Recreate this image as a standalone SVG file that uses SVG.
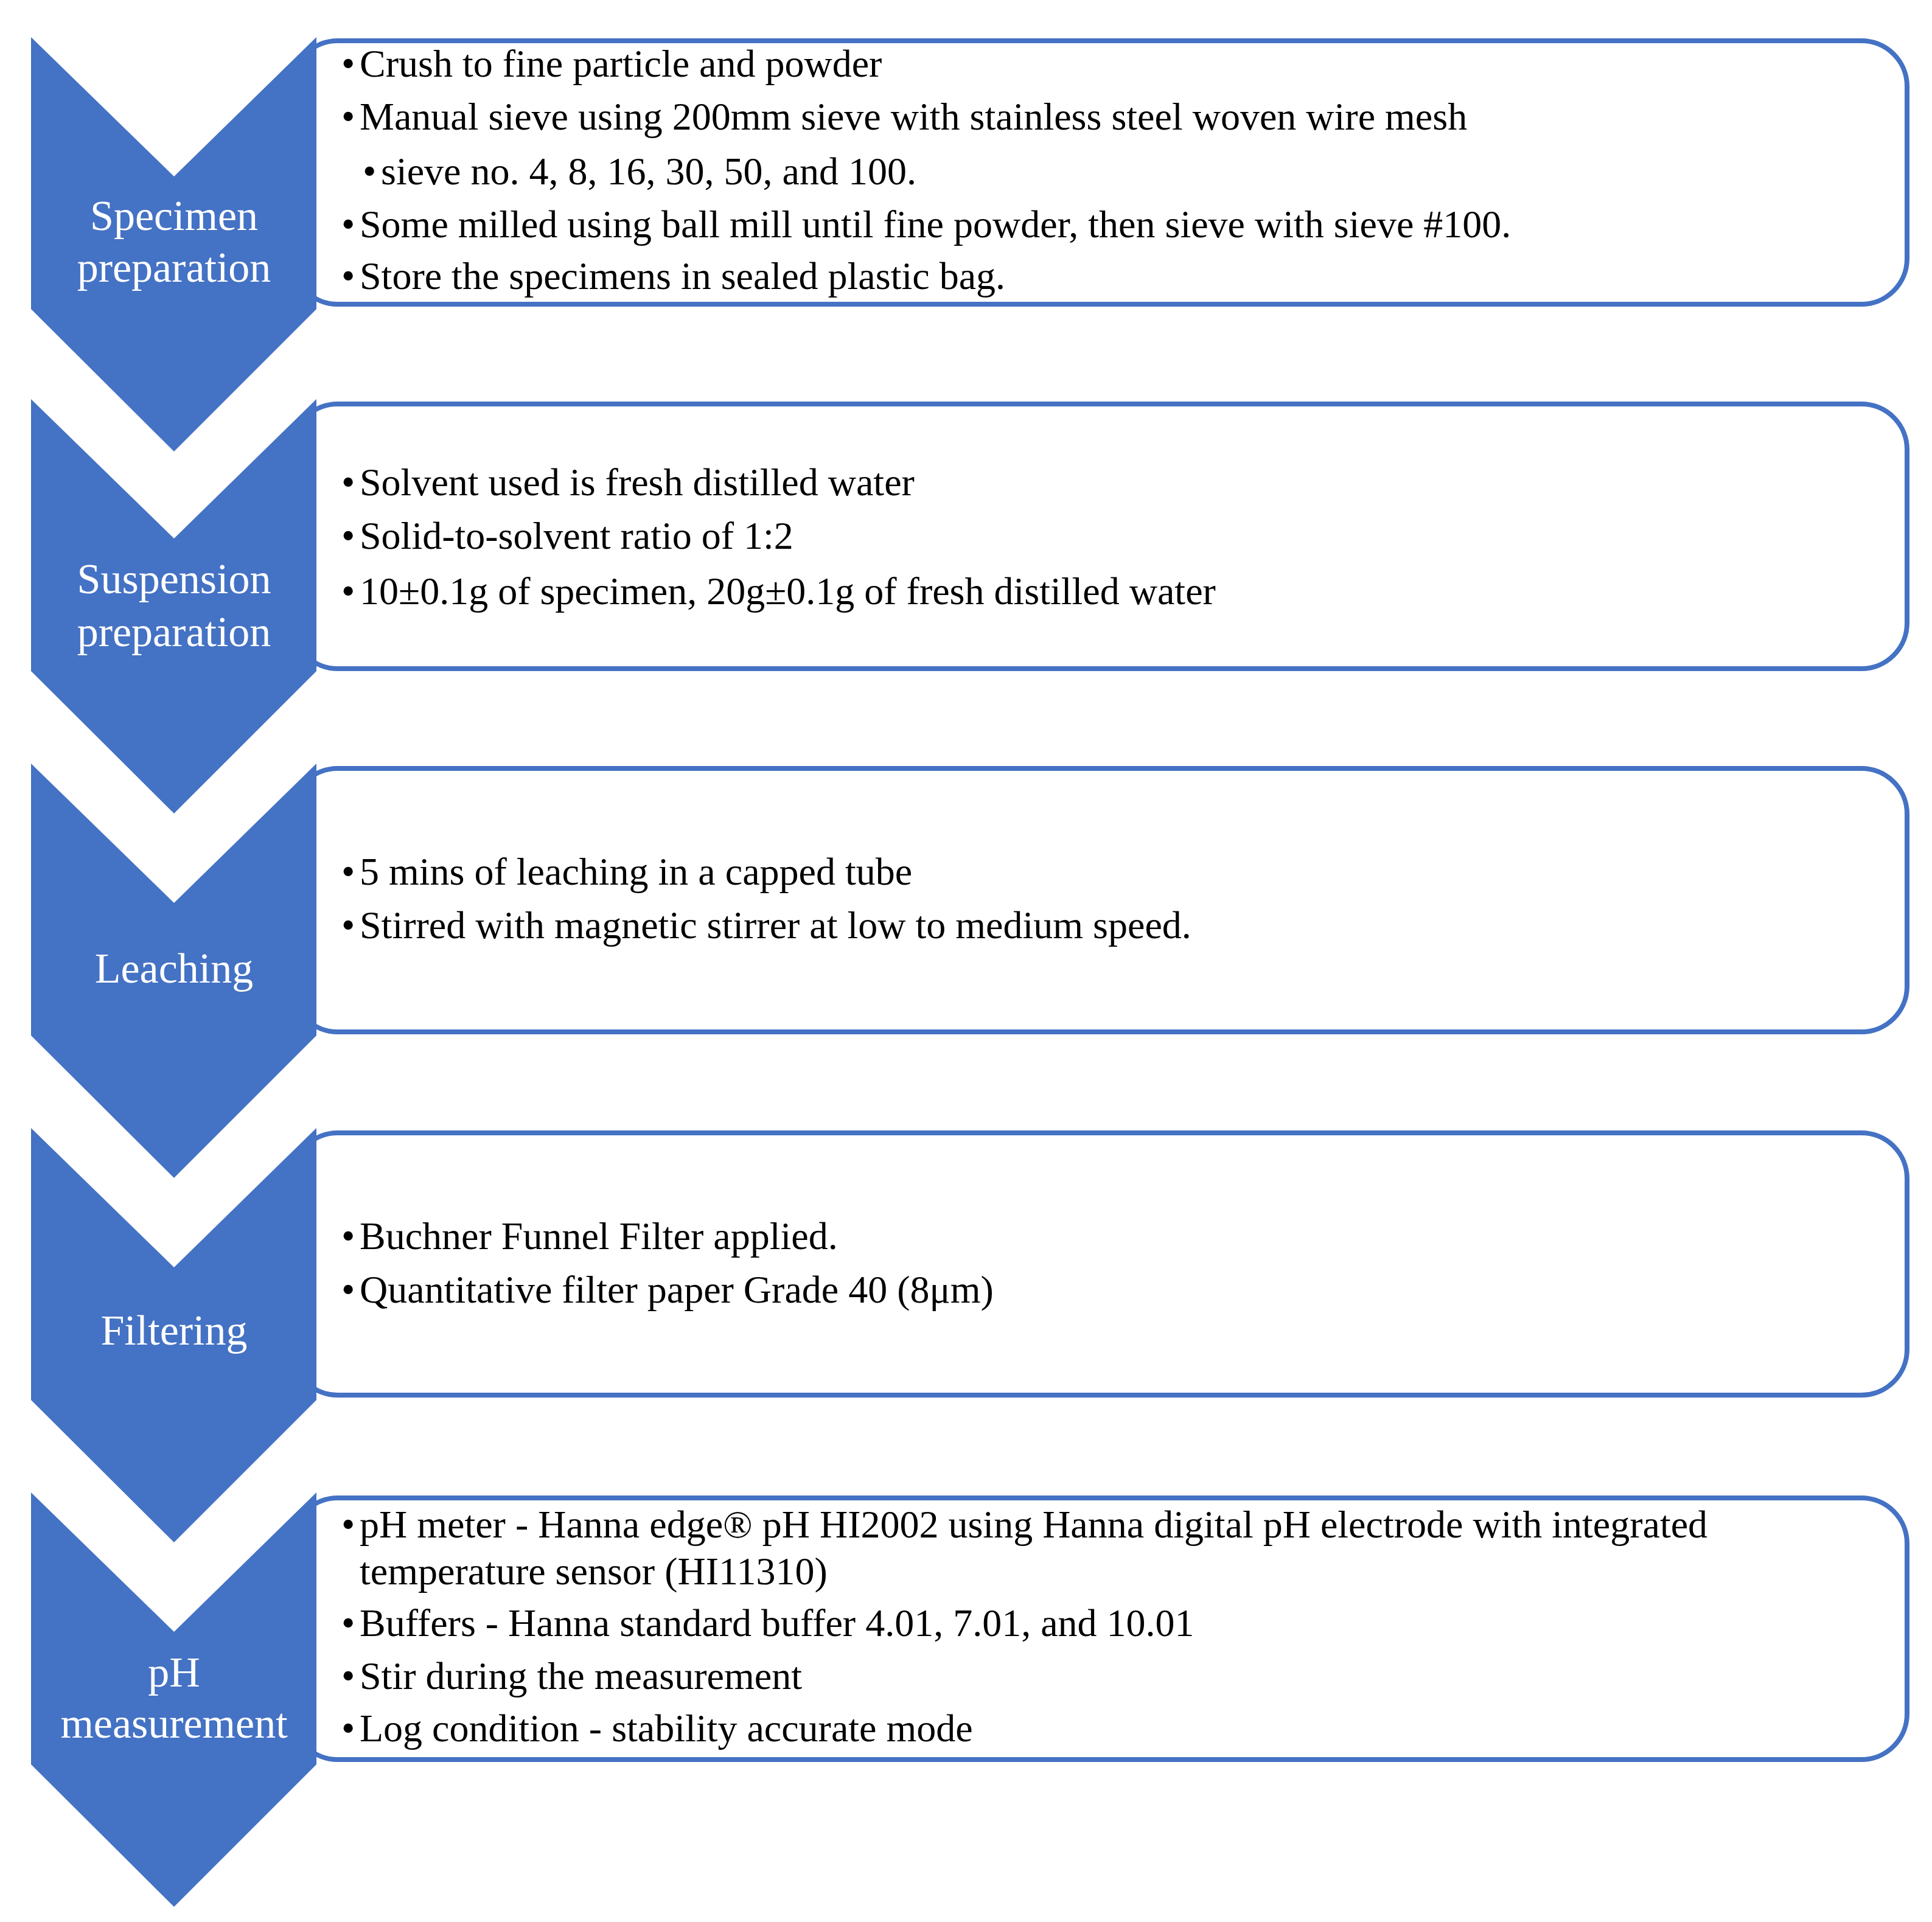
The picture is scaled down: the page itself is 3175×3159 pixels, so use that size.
<svg xmlns="http://www.w3.org/2000/svg" width="3175" height="3159" viewBox="0 0 3175 3159">
<style>
.chev{fill:#4472C4}
.box{fill:#fff;stroke:#4472C4;stroke-width:8}
.lbl{font-family:"Liberation Serif",serif;font-size:70px;fill:#fff;text-anchor:middle}
.t{font-family:"Liberation Serif",serif;font-size:64px;fill:#000}
</style>
<rect width="3175" height="3159" fill="#fff"/>
<defs>
<path id="ch" d="M51,0 L286,229 L520,0 L520,447 L286,681 L51,447 Z"/>
</defs>
<g id="connectors"></g>
<g id="n1">
<rect class="box" x="480" y="67" width="2654" height="433" rx="75"/>
<use href="#ch" class="chev" y="61"/>
<text class="lbl" x="286" y="378">Specimen</text><text class="lbl" x="286" y="463">preparation</text>
<g class="t">
<text x="561" y="126">•</text><text x="591" y="126">Crush to fine particle and powder</text>
<text x="561" y="213">•</text><text x="591" y="213">Manual sieve using 200mm sieve with stainless steel woven wire mesh</text>
<text x="596" y="303">•</text><text x="626" y="303">sieve no. 4, 8, 16, 30, 50, and 100.</text>
<text x="561" y="390">•</text><text x="591" y="390">Some milled using ball mill until fine powder, then sieve with sieve #100.</text>
<text x="561" y="475">•</text><text x="591" y="475">Store the specimens in sealed plastic bag.</text>
</g>
</g>
<g id="n2">
<rect class="box" x="480" y="664" width="2654" height="435" rx="75"/>
<use href="#ch" class="chev" y="656"/>
<text class="lbl" x="286" y="975">Suspension</text><text class="lbl" x="286" y="1062">preparation</text>
<g class="t">
<text x="561" y="814">•</text><text x="591" y="814">Solvent used is fresh distilled water</text>
<text x="561" y="902">•</text><text x="591" y="902">Solid-to-solvent ratio of 1:2</text>
<text x="561" y="993">•</text><text x="591" y="993">10±0.1g of specimen, 20g±0.1g of fresh distilled water</text>
</g>
</g>
<g id="n3">
<rect class="box" x="480" y="1263" width="2654" height="433" rx="75"/>
<use href="#ch" class="chev" y="1255"/>
<text class="lbl" x="286" y="1615">Leaching</text>
<g class="t">
<text x="561" y="1454">•</text><text x="591" y="1454">5 mins of leaching in a capped tube</text>
<text x="561" y="1542">•</text><text x="591" y="1542">Stirred with magnetic stirrer at low to medium speed.</text>
</g>
</g>
<g id="n4">
<rect class="box" x="480" y="1862" width="2654" height="431" rx="75"/>
<use href="#ch" class="chev" y="1854"/>
<text class="lbl" x="286" y="2210">Filtering</text>
<g class="t">
<text x="561" y="2053">•</text><text x="591" y="2053">Buchner Funnel Filter applied.</text>
<text x="561" y="2141">•</text><text x="591" y="2141">Quantitative filter paper Grade 40 (8μm)</text>
</g>
</g>
<g id="n5">
<rect class="box" x="480" y="2462" width="2654" height="430" rx="75"/>
<use href="#ch" class="chev" y="2453"/>
<text class="lbl" x="286" y="2772">pH</text><text class="lbl" x="286" y="2856">measurement</text>
<g class="t">
<text x="561" y="2527">•</text><text x="591" y="2527">pH meter - Hanna edge® pH HI2002 using Hanna digital pH electrode with integrated</text>
<text x="591" y="2604">temperature sensor (HI11310)</text>
<text x="561" y="2689">•</text><text x="591" y="2689">Buffers - Hanna standard buffer 4.01, 7.01, and 10.01</text>
<text x="561" y="2776">•</text><text x="591" y="2776">Stir during the measurement</text>
<text x="561" y="2862">•</text><text x="591" y="2862">Log condition - stability accurate mode</text>
</g>
</g>
</svg>
